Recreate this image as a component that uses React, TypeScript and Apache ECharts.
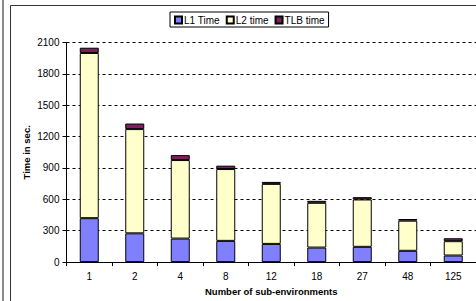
import React, { useEffect, useRef } from "react";
import * as echarts from "echarts";

const categories = ["1", "2", "4", "8", "12", "18", "27", "48", "125"];
const l1Time = [420, 275, 225, 203, 174, 139, 146, 108, 63];
const l2Time = [1580, 997, 751, 687, 574, 428, 453, 288, 137];
const tlbTime = [50, 53, 47, 32, 19, 19, 22, 16, 28];
const seriesNames = ["L1 Time", "L2 time", "TLB time"];
const seriesColors = ["#8080FF", "#FFFFCC", "#7F1F5F"];

const FONT = "'Liberation Sans', Arial, sans-serif";

export default function App() {
  const ref = useRef<HTMLDivElement>(null);
  useEffect(() => {
    document.body.style.margin = "0";
    const chart = echarts.init(ref.current!, null, { renderer: "svg" });
    const data = [l1Time, l2Time, tlbTime];
    chart.setOption({
      animation: false,
      backgroundColor: "#ffffff",
      textStyle: { fontFamily: FONT },
      graphic: [
        {
          type: "line",
          shape: { x1: 3, y1: 0, x2: 3, y2: 301 },
          style: { stroke: "#8a8a8a", lineWidth: 2 },
          silent: true,
        },
        {
          type: "rect",
          shape: { x: 10.5, y: 5.5, width: 500, height: 320 },
          style: { stroke: "#333", lineWidth: 1, fill: "none" },
          silent: true,
        },
      ],
      legend: {
        left: 170,
        top: 12,
        padding: [3, 4, 2, 4],
        itemWidth: 7,
        itemHeight: 7,
        itemGap: 6,
        borderColor: "#000",
        borderWidth: 1,
        icon: "rect",
        textStyle: { fontSize: 10, color: "#000", fontFamily: FONT, padding: [0, 0, 0, -3] },
        data: seriesNames,
      },
      grid: {
        left: 66.5,
        top: 42.5,
        width: 411.5,
        height: 221,
        containLabel: false,
      },
      xAxis: {
        type: "category",
        data: categories,
        name: "Number of sub-environments",
        nameLocation: "middle",
        nameGap: 22,
        nameTextStyle: { fontSize: 9.5, fontWeight: "bold", color: "#000", fontFamily: FONT },
        axisLine: { lineStyle: { color: "#000", width: 1 } },
        axisTick: { show: true, length: 4, lineStyle: { color: "#000" } },
        axisLabel: { fontSize: 10, color: "#000", margin: 9, fontFamily: FONT },
      },
      yAxis: {
        type: "value",
        min: 0,
        max: 2100,
        interval: 300,
        name: "Time in sec.",
        nameLocation: "middle",
        nameGap: 35,
        nameMoveOverlap: false,
        nameRotate: 90,
        nameTextStyle: { fontSize: 9.5, fontWeight: "bold", color: "#000", fontFamily: FONT },
        axisLine: { show: true, lineStyle: { color: "#000", width: 1 } },
        axisTick: { show: true, length: 4, lineStyle: { color: "#000" } },
        axisLabel: {
          fontSize: 10,
          color: "#000",
          margin: 7,
          fontFamily: FONT,
          formatter: (v: number) => String(v),
        },
        splitLine: { show: true, lineStyle: { color: "#000", type: [3, 3], width: 1 } },
      },
      series: seriesNames.map((name, i) => ({
        name,
        type: "bar",
        stack: "total",
        barWidth: 19,
        data: data[i],
        itemStyle: { color: seriesColors[i], borderColor: "#000", borderWidth: 1 },
      })),
    });
    return () => chart.dispose();
  }, []);
  return <div ref={ref} style={{ width: 476, height: 301 }} />;
}
